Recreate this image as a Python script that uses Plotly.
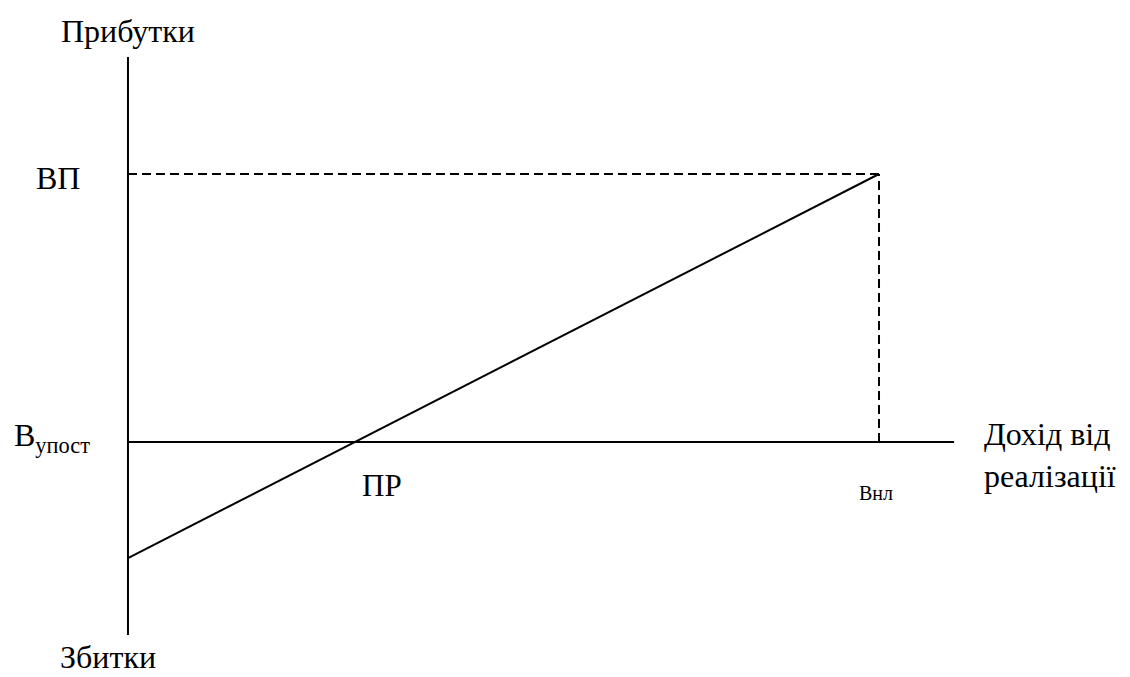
import plotly.graph_objects as go

# умовні одиниці: x — дохід від реалізації, y — прибуток
x_axis = [0, 11]
y_axis = [-7.2, 14.37]

revenue = [0, 10]          # від нуля до Внл
profit = [-4.33, 10]       # від В_упост (збиток) до ВП

vp_level = 10
vnl_level = 10

W, H = 1130, 677
SERIF = "Liberation Serif"


def paper(px, py):
    return px / W, 1 - py / H


# текст, x, y (у пікселях), розмір, прив'язка по x, прив'язка по y
labels = [
    ("Прибутки", 128, 31, 32, "center", "middle"),
    ("ВП", 58, 178, 32, "center", "middle"),
    ("В<sub>упост</sub>", 12, 437, 32, "left", "middle"),
    ("ПР", 382, 485, 31, "center", "middle"),
    ("Внл", 876, 493, 20, "center", "middle"),
    ("Дохід від", 982, 434, 32, "left", "middle"),
    ("реалізації", 982, 476, 32, "left", "middle"),
    ("Збитки", 108, 677, 32, "center", "bottom"),
]

fig = go.Figure()

line_style = dict(color="black", width=2)
dash_style = dict(color="black", width=2, dash="9px,5px")

# осі
fig.add_trace(go.Scatter(x=[0, 0], y=y_axis, mode="lines", line=line_style))
fig.add_trace(go.Scatter(x=x_axis, y=[0, 0], mode="lines", line=line_style))

# пунктирні лінії до точки (Внл, ВП)
fig.add_trace(go.Scatter(x=[0, vnl_level], y=[vp_level, vp_level], mode="lines", line=dash_style))
fig.add_trace(go.Scatter(x=[vnl_level, vnl_level], y=[0, vp_level], mode="lines", line=dash_style))

# лінія прибутку
fig.add_trace(go.Scatter(x=revenue, y=profit, mode="lines", line=line_style))

for text, px, py, size, xanc, yanc in labels:
    ax, ay = paper(px, py)
    fig.add_annotation(
        x=ax, y=ay, xref="paper", yref="paper",
        text=text, showarrow=False,
        xanchor=xanc, yanchor=yanc,
        font=dict(family=SERIF, size=size, color="black"),
    )

fig.update_layout(
    width=W,
    height=H,
    showlegend=False,
    font=dict(family=SERIF),
    plot_bgcolor="white",
    paper_bgcolor="white",
    margin=dict(l=0, r=0, t=0, b=0),
    xaxis=dict(range=[-1.704, 13.342], visible=False, fixedrange=True),
    yaxis=dict(range=[-8.769, 16.493], visible=False, fixedrange=True),
)

fig.write_html(
    "out.html",
    config={"displayModeBar": False},
    post_script="document.body.style.margin='0';",
)
